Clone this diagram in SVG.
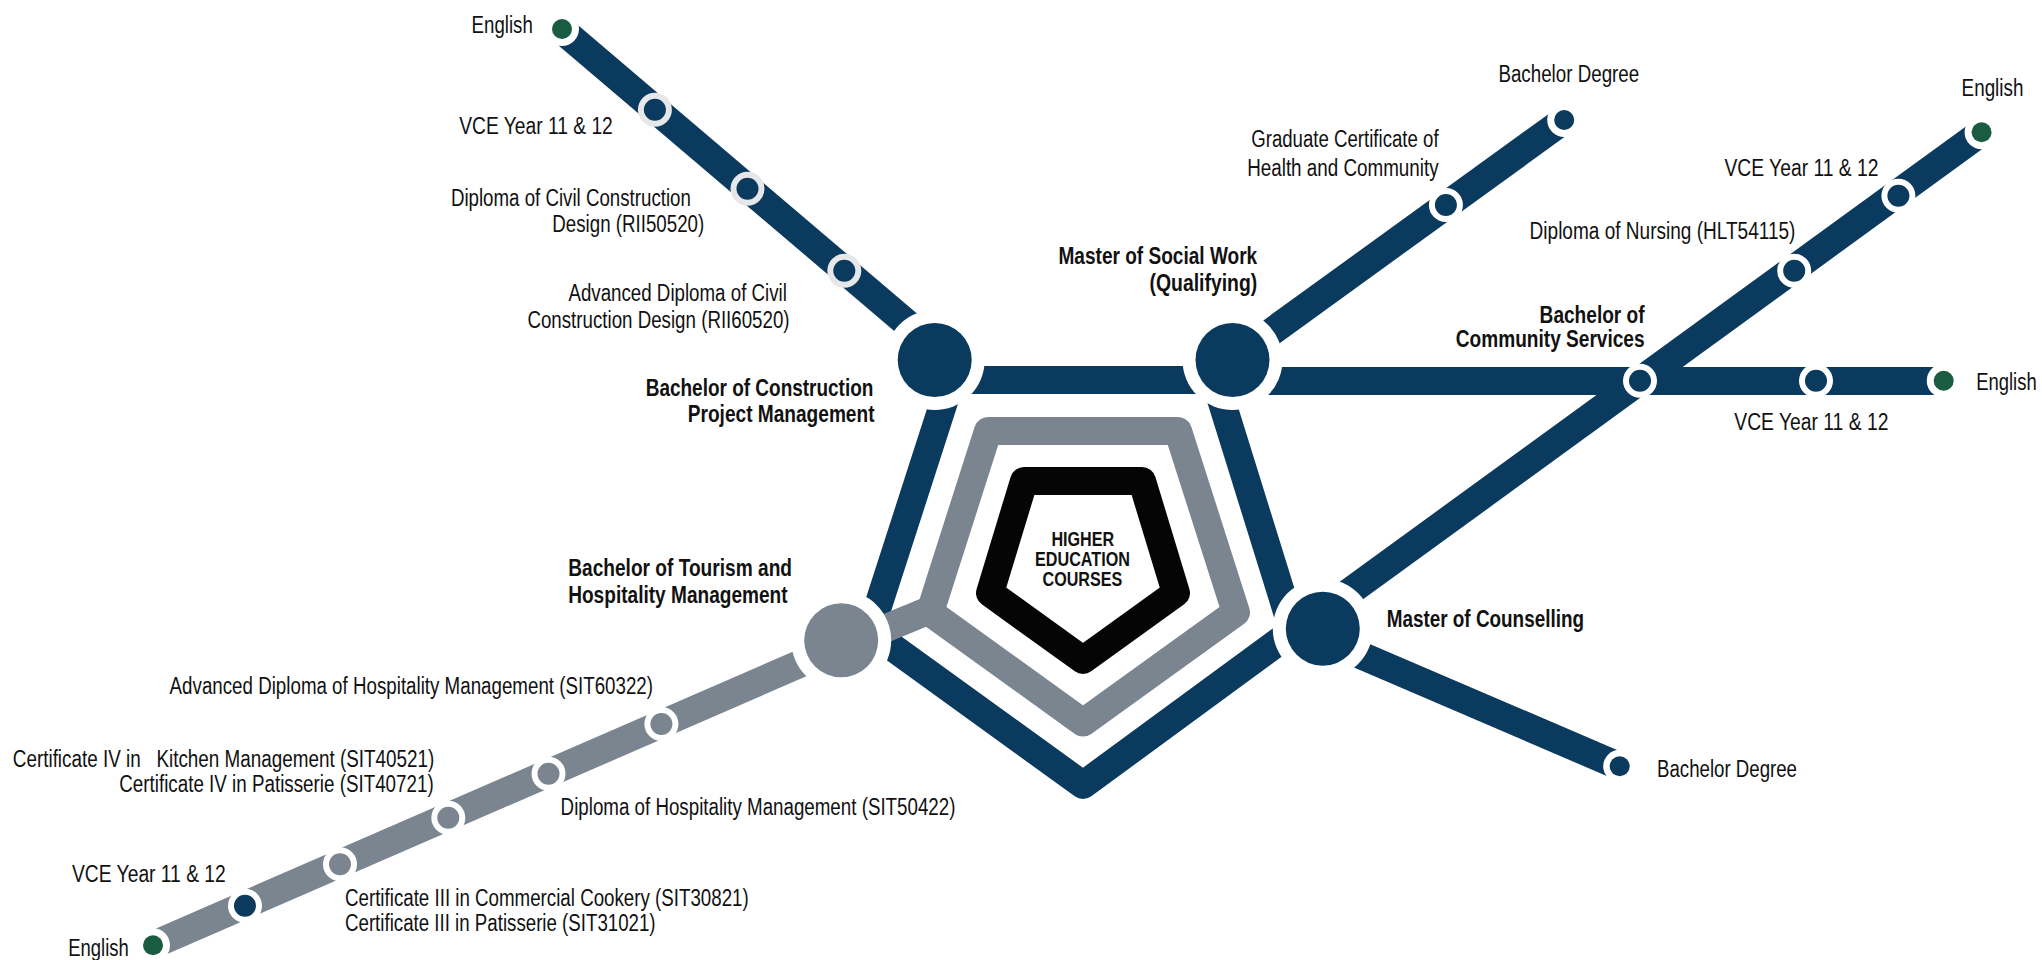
<svg xmlns="http://www.w3.org/2000/svg" width="2042" height="960" viewBox="0 0 2042 960">
<style>
text{font-family:"Liberation Sans",Arial,sans-serif;font-size:23px;fill:#111;}
.b{font-weight:bold;}
.c{font-size:21px;}
.line{fill:none;stroke-width:28;stroke-linejoin:round;stroke-linecap:butt;}
.navy{stroke:#0a3a5e;}
.grey{stroke:#7a858f;}
.black{stroke:#040504;}
.halo{fill:#fff;}
.hn{fill:#0a3a5e;}
.hg{fill:#7a858f;}
.end{fill:#1a5c41;}
.st{stroke-width:6;}
.sl{stroke:#e6e7e8;fill:#0a3a5e;}
.sw{stroke:#fff;fill:#0a3a5e;}
.sg{stroke:#fff;fill:#7a858f;}
</style>
<rect width="2042" height="960" fill="#fff"/>
<g id="connectors">
<path class="line navy" d="M951 380H1215L1293 631L1083 785L870 631Z"/>
<path class="line grey" d="M988 431H1178L1236 612.4L1083 722.6L930 612.4Z"/>
<path class="line black" d="M1024 481H1142L1176 593L1083 660L990 593Z"/>
<path class="line grey" d="M845 645L930 610"/>
<path class="line navy" d="M562 30L934.7 347"/>
<path class="line navy" d="M1232.5 360L1564.2 120"/>
<path class="line navy" d="M1232.5 381H1943.7"/>
<path class="line navy" d="M1322.8 611.3L1981.6 132.3"/>
<path class="line navy" d="M1322.8 639L1619.7 766.3"/>
<path class="line grey" d="M153 945L841 646"/>
</g>
<g id="core"><text class="b c" x="1051.4" y="545.7" textLength="62.8" lengthAdjust="spacingAndGlyphs">HIGHER</text><text class="b c" x="1035" y="566" textLength="94.9" lengthAdjust="spacingAndGlyphs">EDUCATION</text><text class="b c" x="1042.6" y="586.3" textLength="79.6" lengthAdjust="spacingAndGlyphs">COURSES</text></g>
<g id="n-construction"><circle class="halo" cx="934.7" cy="360" r="50"/><circle class="hn" cx="934.7" cy="360" r="37"/><text class="b" x="645.7" y="396" textLength="227.7" lengthAdjust="spacingAndGlyphs">Bachelor of Construction</text><text class="b" x="687.8" y="421.7" textLength="186.7" lengthAdjust="spacingAndGlyphs">Project Management</text></g>
<g id="n-social"><circle class="halo" cx="1232.5" cy="360" r="50"/><circle class="hn" cx="1232.5" cy="360" r="37"/><text class="b" x="1058.5" y="263.7" textLength="198.7" lengthAdjust="spacingAndGlyphs">Master of Social Work</text><text class="b" x="1149.5" y="291" textLength="107.7" lengthAdjust="spacingAndGlyphs">(Qualifying)</text></g>
<g id="n-counselling"><circle class="halo" cx="1322.8" cy="628.7" r="50"/><circle class="hn" cx="1322.8" cy="628.7" r="37"/><text class="b" x="1386.7" y="626.7" textLength="197.3" lengthAdjust="spacingAndGlyphs">Master of Counselling</text></g>
<g id="n-tourism"><circle class="halo" cx="841.2" cy="640.3" r="50"/><circle class="hg" cx="841.2" cy="640.3" r="37"/><text class="b" x="568.2" y="576.3" textLength="223.8" lengthAdjust="spacingAndGlyphs">Bachelor of Tourism and</text><text class="b" x="568.2" y="602.7" textLength="219.4" lengthAdjust="spacingAndGlyphs">Hospitality Management</text></g>
<g id="s-cs"><circle class="st sw" cx="1640" cy="380.7" r="14"/><text class="b" x="1539.6" y="322.7" textLength="105" lengthAdjust="spacingAndGlyphs">Bachelor of</text><text class="b" x="1455.8" y="346.7" textLength="188.8" lengthAdjust="spacingAndGlyphs">Community Services</text></g>
<g id="tl-english"><circle class="halo" cx="562" cy="29" r="17"/><circle class="end" cx="562" cy="29" r="10"/><text x="471.6" y="33.3" textLength="61.2" lengthAdjust="spacingAndGlyphs">English</text></g>
<g id="tl-vce"><circle class="st sl" cx="654.9" cy="109.7" r="14"/><text x="459.3" y="133.7" textLength="153.5" lengthAdjust="spacingAndGlyphs">VCE Year 11 &amp; 12</text></g>
<g id="tl-dip"><circle class="st sl" cx="747.5" cy="188.7" r="14"/><text x="450.9" y="205.7" textLength="240" lengthAdjust="spacingAndGlyphs">Diploma of Civil Construction</text><text x="552.3" y="231.7" textLength="151.9" lengthAdjust="spacingAndGlyphs">Design (RII50520)</text></g>
<g id="tl-adv"><circle class="st sl" cx="844.3" cy="270.7" r="14"/><text x="568.4" y="301" textLength="218.5" lengthAdjust="spacingAndGlyphs">Advanced Diploma of Civil</text><text x="527.4" y="328.3" textLength="262.2" lengthAdjust="spacingAndGlyphs">Construction Design (RII60520)</text></g>
<g id="sw-bachelor"><circle class="halo" cx="1564.2" cy="120" r="17"/><circle class="hn" cx="1564.2" cy="120" r="10"/><text x="1498.4" y="81.7" textLength="140.8" lengthAdjust="spacingAndGlyphs">Bachelor Degree</text></g>
<g id="sw-grad"><circle class="st sw" cx="1445.9" cy="205" r="14"/><text x="1251.2" y="146.7" textLength="187.4" lengthAdjust="spacingAndGlyphs">Graduate Certificate of</text><text x="1247.2" y="175.7" textLength="191.4" lengthAdjust="spacingAndGlyphs">Health and Community</text></g>
<g id="tr-english"><circle class="halo" cx="1981.6" cy="132.3" r="17"/><circle class="end" cx="1981.6" cy="132.3" r="10"/><text x="1961.6" y="95.7" textLength="61.8" lengthAdjust="spacingAndGlyphs">English</text></g>
<g id="tr-vce"><circle class="st sw" cx="1898.4" cy="195.7" r="14"/><text x="1724.4" y="175.7" textLength="154.1" lengthAdjust="spacingAndGlyphs">VCE Year 11 &amp; 12</text></g>
<g id="tr-dip"><circle class="st sw" cx="1794.2" cy="270.7" r="14"/><text x="1529.6" y="239.3" textLength="265.8" lengthAdjust="spacingAndGlyphs">Diploma of Nursing (HLT54115)</text></g>
<g id="r-vce"><circle class="st sw" cx="1816" cy="380.7" r="14"/><text x="1734.3" y="430.3" textLength="154.1" lengthAdjust="spacingAndGlyphs">VCE Year 11 &amp; 12</text></g>
<g id="r-english"><circle class="halo" cx="1943.7" cy="380.7" r="17"/><circle class="end" cx="1943.7" cy="380.7" r="10"/><text x="1976.2" y="390" textLength="60.5" lengthAdjust="spacingAndGlyphs">English</text></g>
<g id="br-bachelor"><circle class="halo" cx="1619.7" cy="766.3" r="16.5"/><circle class="hn" cx="1619.7" cy="766.3" r="10"/><text x="1657" y="776.7" textLength="140" lengthAdjust="spacingAndGlyphs">Bachelor Degree</text></g>
<g id="bl-adv"><circle class="st sg" cx="661.4" cy="724" r="14"/><text x="169.6" y="693.7" textLength="483.4" lengthAdjust="spacingAndGlyphs">Advanced Diploma of Hospitality Management (SIT60322)</text></g>
<g id="bl-dip"><circle class="st sg" cx="548.5" cy="773.7" r="14"/><text x="560.6" y="814.7" textLength="394.8" lengthAdjust="spacingAndGlyphs">Diploma of Hospitality Management (SIT50422)</text></g>
<g id="bl-cert4"><circle class="st sg" cx="448.3" cy="817.7" r="14"/><text x="12.8" y="767" textLength="421.5" lengthAdjust="spacingAndGlyphs" style="white-space:pre">Certificate IV in   Kitchen Management (SIT40521)</text><text x="119.3" y="791.7" textLength="314.4" lengthAdjust="spacingAndGlyphs">Certificate IV in Patisserie (SIT40721)</text></g>
<g id="bl-cert3"><circle class="st sg" cx="340" cy="864.3" r="14"/><text x="345" y="905.7" textLength="403.7" lengthAdjust="spacingAndGlyphs">Certificate III in Commercial Cookery (SIT30821)</text><text x="345" y="931.3" textLength="310.6" lengthAdjust="spacingAndGlyphs">Certificate III in Patisserie (SIT31021)</text></g>
<g id="bl-vce"><circle class="st sw" cx="245" cy="905.7" r="14"/><text x="72" y="882.3" textLength="153.8" lengthAdjust="spacingAndGlyphs">VCE Year 11 &amp; 12</text></g>
<g id="bl-english"><circle class="halo" cx="153" cy="945.3" r="17"/><circle class="end" cx="153" cy="945.3" r="10"/><text x="68.2" y="955.7" textLength="60.6" lengthAdjust="spacingAndGlyphs">English</text></g>
</svg>
